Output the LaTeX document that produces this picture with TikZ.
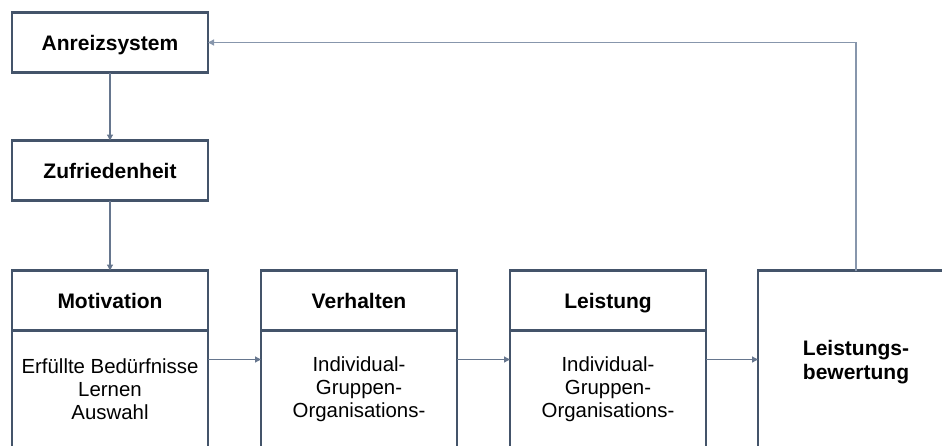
\documentclass[tikz,border=0pt]{standalone}
\usepackage{fontspec}
\setmainfont{Liberation Sans}
\usetikzlibrary{arrows.meta,positioning}
\definecolor{boxline}{HTML}{44546A}
\definecolor{arrline}{HTML}{66768E}
\definecolor{backline}{HTML}{8796AC}

\begin{document}
\begin{tikzpicture}[x=1pt,y=-1pt,>={Triangle[length=6pt,width=6pt]},
		node distance=53pt]
		\tikzset{
			box/.style={draw=boxline,line width=2.4pt,fill=white,inner sep=0pt,outer sep=0pt,
				minimum width=196pt,minimum height=60pt,align=center,
				font=\fontsize{21}{24}\selectfont\bfseries},
			head/.style={box,text height=16pt,text depth=0pt},
			textbox/.style={box,minimum height=118pt,
				font=\fontsize{20.4}{23}\selectfont},
			flow/.style={->,draw=arrline,line width=1.2pt}
		}
		\useasboundingbox (0,0) rectangle (942,445);
		\clip (0,0) rectangle (942,445);
		
		\node[head] (anr) at (110,42.5) {Anreizsystem};
		\node[head] (zuf) [below=68pt of anr] {Zufriedenheit};
		\node[head] (mot) [below=70pt of zuf] {Motivation};
		\node[textbox] (motb) [below=0pt of mot] {Erfüllte Bedürfnisse\\Lernen\\Auswahl};
		\node[head] (ver) [right=53pt of mot] {Verhalten};
		\node[textbox] (verb) [below=0pt of ver] {Individual-\\Gruppen-\\Organisations-};
		\node[head] (lei) [right=53pt of ver] {Leistung};
		\node[textbox] (leib) [below=0pt of lei] {Individual-\\Gruppen-\\Organisations-};
		\node[box,minimum height=178pt] (lbw) [right=52pt of lei.north east,anchor=north west]
			{\rule{0pt}{21pt}Leistungs-\\bewertung};
		
		\path 
		(anr) edge [flow] (zuf)
		(zuf) edge [flow] (mot)
		(motb.east |- lbw.west) edge [flow] (verb.west |- lbw.west)
		(verb.east |- lbw.west) edge [flow] (leib.west |- lbw.west)
		(leib.east |- lbw.west) edge [flow] (lbw.west);
		\draw[->,draw=backline,line width=1.2pt] (lbw.north) |- (anr.east);
		\end{tikzpicture}
\end{document}
